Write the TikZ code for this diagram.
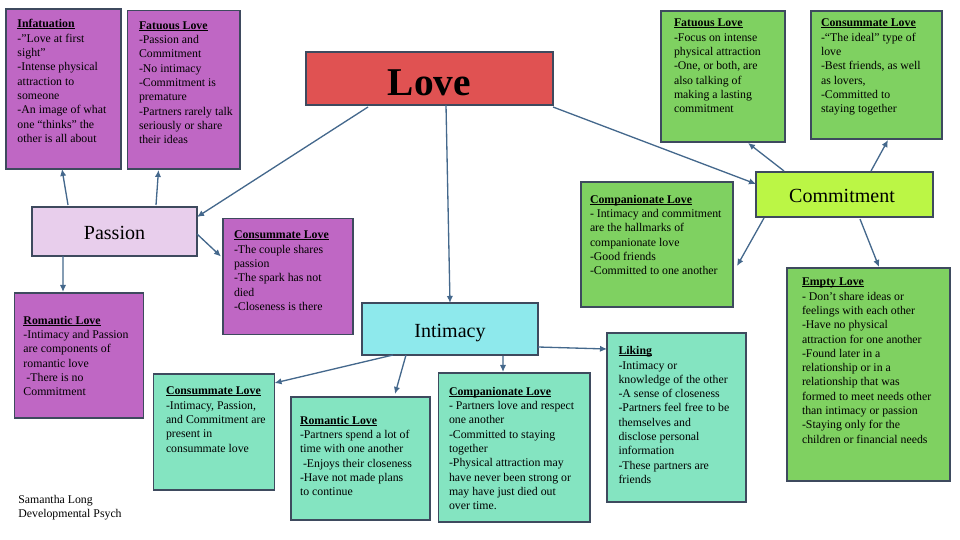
\documentclass[tikz,border=0pt]{standalone}
\usepackage{fontspec}
\setmainfont{Liberation Serif}
\usetikzlibrary{arrows.meta}
\definecolor{cardpurple}{HTML}{BF67C4}
\definecolor{cardgreen}{HTML}{7FD161}
\definecolor{cardteal}{HTML}{84E4C1}
\definecolor{lovered}{HTML}{E05252}
\definecolor{passionfill}{HTML}{E8CEEC}
\definecolor{commitfill}{HTML}{BBF645}
\definecolor{intimacyfill}{HTML}{8EE9EC}
\definecolor{edgeslate}{HTML}{3E4A5E}
\definecolor{linkblue}{HTML}{44688C}
\newlength{\pxu}
\setlength{\pxu}{0.02cm}
\newsavebox{\headbox}
% args: width, height, left pad, top pad, text
\newcommand{\cardtext}[5]{\parbox[c][#2\pxu][t]{#1\pxu}{\fontsize{6.72}{8.15}\selectfont\setlength{\leftskip}{#3\pxu}\vspace*{#4\pxu}#5}}
\newcommand{\cardhead}[1]{\leavevmode\sbox{\headbox}{\textbf{#1}}\rlap{\rule[-0.7pt]{\wd\headbox}{0.4pt}}\usebox{\headbox}}
\tikzset{
  card/.style={draw=edgeslate, line width=0.8pt, anchor=north west, inner sep=0pt, outer sep=0pt},
  hub/.style={draw=edgeslate, line width=0.8pt, anchor=north west, inner sep=0pt, outer sep=0pt, align=center, text height=9.3pt, text depth=0pt, font=\fontsize{11.4}{13}\selectfont},
  link/.style={draw=linkblue, line width=0.75pt, -{Latex[length=4pt,width=3.6pt]}}
}
\begin{document}
\begin{tikzpicture}[x=0.02cm,y=-0.02cm]
\useasboundingbox (0,0) rectangle (960,540);
% main boxes
\node[hub, fill=lovered, minimum width=247\pxu, minimum height=53\pxu, text height=18.8pt, font=\fontsize{22.4}{26}\selectfont\bfseries] (love) at (306,52){Love};
\node[hub, fill=passionfill, minimum width=165\pxu, minimum height=49\pxu] (passion) at (32,207){Passion};
\node[hub, fill=intimacyfill, minimum width=176\pxu, minimum height=52\pxu] (intimacy) at (362,303){Intimacy};
\node[hub, fill=commitfill, minimum width=177\pxu, minimum height=45\pxu] (commitment) at (756,172){\hspace*{-5\pxu}Commitment};
% passion
\node[card, fill=cardpurple] (infatuation) at (6,9){\cardtext{115}{160}{11.5}{10.5}{\cardhead{Infatuation}\\-”Love at first\\sight”\\-Intense physical\\attraction to\\someone\\-An image of what\\one “thinks” the\\other is all about}};
\node[card, fill=cardpurple] (fatuousp) at (127.5,10.5){\cardtext{112.5}{158.5}{11.5}{11}{\cardhead{Fatuous Love}\\-Passion and\\Commitment\\-No intimacy\\-Commitment is\\premature\\-Partners rarely talk\\seriously or share\\their ideas}};
\node[card, fill=cardpurple] (consummatep) at (223,218.5){\cardtext{130}{116}{11}{12.5}{\cardhead{Consummate Love}\\-The couple shares\\passion\\-The spark has not\\died\\-Closeness is there}};
\node[card, fill=cardpurple] (romanticp) at (14.5,293){\cardtext{129}{125}{9}{23}{\cardhead{Romantic Love}\\-Intimacy and Passion\\are components of\\romantic love\\\hspace*{3\pxu}-There is no\\Commitment}};
% commitment
\node[card, fill=cardgreen] (fatuousc) at (661,11){\cardtext{124}{131}{13}{8}{\cardhead{Fatuous Love}\\-Focus on intense\\physical attraction\\-One, or both, are\\also talking of\\making a lasting\\commitment}};
\node[card, fill=cardgreen] (consummatec) at (811,11){\cardtext{131}{128}{10}{8}{\cardhead{Consummate Love}\\-“The ideal” type of\\love\\-Best friends, as well\\as lovers,\\-Committed to\\staying together}};
\node[card, fill=cardgreen] (companionatec) at (581,182){\cardtext{152}{125}{9}{13}{\cardhead{Companionate Love}\\- Intimacy and commitment\\are the hallmarks of\\companionate love\\-Good friends\\-Committed to one another}};
\node[card, fill=cardgreen] (empty) at (787,268){\cardtext{163}{213}{15}{10}{\cardhead{Empty Love}\\- Don’t share ideas or\\feelings with each other\\-Have no physical\\attraction for one another\\-Found later in a\\relationship or in a\\relationship that was\\formed to meet needs other\\than intimacy or passion\\-Staying only for the\\children or financial needs}};
% intimacy
\node[card, fill=cardteal] (consummatei) at (153.5,374){\cardtext{121}{116}{12.5}{13}{\cardhead{Consummate Love}\\-Intimacy, Passion,\\and Commitment are\\present in\\consummate love}};
\node[card, fill=cardteal] (romantici) at (291,397){\cardtext{139}{123}{9}{19}{\cardhead{Romantic Love}\\-Partners spend a lot of\\time with one another\\\hspace*{3\pxu}-Enjoys their closeness\\-Have not made plans\\to continue}};
\node[card, fill=cardteal] (companionatei) at (438.5,373){\cardtext{151.5}{149}{10.5}{14}{\cardhead{Companionate Love}\\- Partners love and respect\\one another\\-Committed to staying\\together\\-Physical attraction may\\have never been strong or\\may have just died out\\over time.}};
\node[card, fill=cardteal] (liking) at (607,333){\cardtext{139}{169}{11.5}{13.5}{\cardhead{Liking}\\-Intimacy or\\knowledge of the other\\-A sense of closeness\\-Partners feel free to be\\themselves and\\disclose personal\\information\\-These partners are\\friends}};
\node[anchor=north west, inner sep=0pt] (credit) at (18,495){\cardtext{130}{30}{0}{0}{Samantha Long\\Developmental Psych}};
% links from love
\draw[link] ([shift={(62,2)}]love.south west) -- ([shift={(0,10)}]passion.north east);
\draw[link] ([shift={(140,0)}]love.south west) -- ([shift={(88,0)}]intimacy.north west);
\draw[link] ([shift={(0,2)}]love.south east) -- ([shift={(0,12)}]commitment.north west);
% links from passion
\draw[link] ([shift={(36,-2)}]passion.north west) -- ([shift={(56,0)}]infatuation.south west);
\draw[link] ([shift={(124,-2)}]passion.north west) -- ([shift={(31,1)}]fatuousp.south west);
\draw[link] ([shift={(31,0)}]passion.south west) -- ([shift={(48.5,-1)}]romanticp.north west);
\draw[link] ([shift={(0,-22)}]passion.south east) -- ([shift={(-2,38)}]consummatep.north west);
% links from commitment
\draw[link] ([shift={(28,-1)}]commitment.north west) -- ([shift={(87,1)}]fatuousc.south west);
\draw[link] ([shift={(115,-1)}]commitment.north west) -- ([shift={(77,1)}]consummatec.south west);
\draw[link] ([shift={(8,1)}]commitment.south west) -- ([shift={(4,-41)}]companionatec.south east);
\draw[link] ([shift={(104,2)}]commitment.south west) -- ([shift={(92,-1)}]empty.north west);
% links from intimacy
\draw[link] ([shift={(31,0)}]intimacy.south west) -- ([shift={(0,9)}]consummatei.north east);
\draw[link] ([shift={(44,0)}]intimacy.south west) -- ([shift={(104,-3)}]romantici.north west);
\draw[link] ([shift={(141,1)}]intimacy.south west) -- ([shift={(64.5,-1)}]companionatei.north west);
\draw[link] ([shift={(0,-8)}]intimacy.south east) -- ([shift={(0,16)}]liking.north west);
\end{tikzpicture}
\end{document}
